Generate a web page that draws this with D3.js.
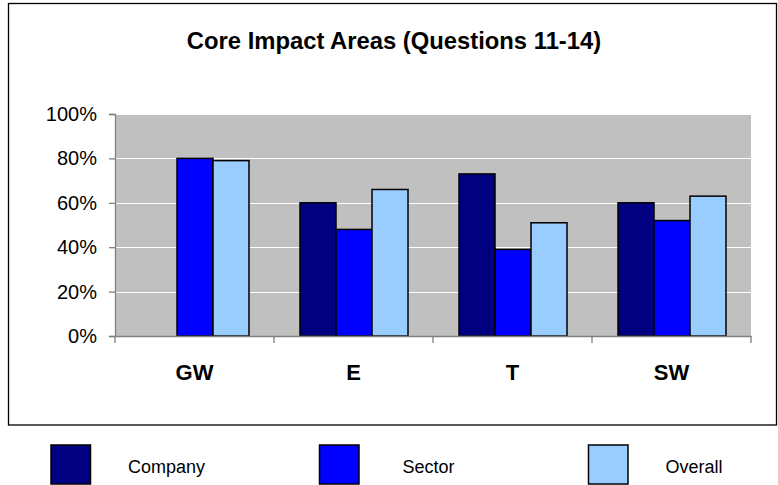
<!DOCTYPE html>
<html>
<head>
<meta charset="utf-8">
<script src="https://cdn.jsdelivr.net/npm/d3@7"></script>
<style>
  body { margin: 0; background: #fff; }
  text { font-family: "Liberation Sans", Arial, sans-serif; }
</style>
</head>
<body>
<div id="chart"></div>
<script>
// data
var categories = ["GW", "E", "T", "SW"];
var seriesNames = ["Company", "Sector", "Overall"];
var company = [0, 0.60, 0.73, 0.60];
var sector = [0.80, 0.48, 0.39, 0.52];
var overall = [0.79, 0.66, 0.51, 0.63];
var yTicks = [0, 0.2, 0.4, 0.6, 0.8, 1.0];
var colors = ["#000080", "#0000FF", "#99CCFF"];

var seriesValues = [company, sector, overall];

var svgWidth = 778, svgHeight = 485;
var plot = { left: 115, right: 751, top: 114, bottom: 336 };

var svg = d3.select("#chart")
  .append("svg")
  .attr("width", svgWidth)
  .attr("height", svgHeight);

// outer frame
svg.append("rect")
  .attr("x", 8.5)
  .attr("y", 3.5)
  .attr("width", 768)
  .attr("height", 421.5)
  .attr("fill", "#fff")
  .attr("stroke", "#000")
  .attr("stroke-width", 1.3);

// title
svg.append("text")
  .attr("x", 394)
  .attr("y", 49)
  .attr("text-anchor", "middle")
  .attr("font-size", "23.8px")
  .attr("font-weight", "bold")
  .text("Core Impact Areas (Questions 11-14)");

// scales
var x0 = d3.scaleBand()
  .domain(categories)
  .range([plot.left, plot.right]);

var x1 = d3.scaleBand()
  .domain(seriesNames)
  .range([26, 26 + 108]);

var y = d3.scaleLinear()
  .domain([0, 1])
  .range([plot.bottom, plot.top]);

// plot background
svg.append("rect")
  .attr("x", plot.left)
  .attr("y", plot.top)
  .attr("width", plot.right - plot.left)
  .attr("height", plot.bottom - plot.top)
  .attr("fill", "#C0C0C0");

// gridlines
svg.append("g")
  .selectAll("line")
  .data(yTicks.filter(d => d > 0))
  .enter()
  .append("line")
  .attr("x1", plot.left)
  .attr("x2", plot.right)
  .attr("y1", d => Math.round(y(d)) + 0.5)
  .attr("y2", d => Math.round(y(d)) + 0.5)
  .attr("stroke", "#fff")
  .attr("stroke-width", 1);

// bars
var groups = svg.append("g")
  .selectAll("g")
  .data(categories)
  .enter()
  .append("g")
  .attr("transform", d => `translate(${x0(d)},0)`);

groups.selectAll("rect")
  .data((d, i) => seriesNames.map((s, j) => ({ series: s, value: seriesValues[j][i], color: colors[j] })))
  .enter()
  .filter(d => d.value > 0)
  .append("rect")
  .attr("x", d => x1(d.series))
  .attr("y", d => y(d.value))
  .attr("width", x1.bandwidth())
  .attr("height", d => y(0) - y(d.value))
  .attr("fill", d => d.color)
  .attr("stroke", "#000")
  .attr("stroke-width", 1.5);

// y axis
var yAxis = svg.append("g")
  .attr("transform", `translate(${plot.left},0)`)
  .call(d3.axisLeft(y).tickValues(yTicks).tickFormat(d3.format(".0%")).tickSize(6).tickPadding(12));
yAxis.select(".domain").attr("stroke", "#808080").attr("stroke-width", 1.3);
yAxis.selectAll(".tick line").attr("stroke", "#808080").attr("stroke-width", 1.3);
yAxis.selectAll(".tick text")
  .attr("font-size", "20px")
  .attr("font-family", "Liberation Sans, Arial, sans-serif")
  .attr("fill", "#000");

// x axis
var xAxis = svg.append("g")
  .attr("transform", `translate(0,${plot.bottom})`)
  .call(d3.axisBottom(x0).tickSize(0).tickPadding(0).tickFormat(""));
xAxis.select(".domain").attr("stroke", "#808080").attr("stroke-width", 1.3);

// category boundary ticks
var bounds = categories.map(d => x0(d)).concat([plot.right]);
svg.append("g")
  .selectAll("line")
  .data(bounds)
  .enter()
  .append("line")
  .attr("x1", d => d)
  .attr("x2", d => d)
  .attr("y1", plot.bottom)
  .attr("y2", plot.bottom + 7)
  .attr("stroke", "#808080")
  .attr("stroke-width", 1.3);

// category labels
svg.append("g")
  .selectAll("text")
  .data(categories)
  .enter()
  .append("text")
  .attr("x", d => x0(d) + x0.bandwidth() / 2)
  .attr("y", 380)
  .attr("text-anchor", "middle")
  .attr("font-size", "22px")
  .attr("font-weight", "bold")
  .text(d => d);

// legend
var legendX = [51, 319.5, 588.5];
var legendTextX = [128, 402.5, 665.5];
var legend = svg.append("g")
  .selectAll("g")
  .data(seriesNames)
  .enter()
  .append("g");

legend.append("rect")
  .attr("x", (d, i) => legendX[i])
  .attr("y", 445)
  .attr("width", 39.5)
  .attr("height", 39)
  .attr("fill", (d, i) => colors[i])
  .attr("stroke", "#000")
  .attr("stroke-width", 1.5);

legend.append("text")
  .attr("x", (d, i) => legendTextX[i])
  .attr("y", 472.5)
  .attr("font-size", "18px")
  .text(d => d);
</script>
</body>
</html>
